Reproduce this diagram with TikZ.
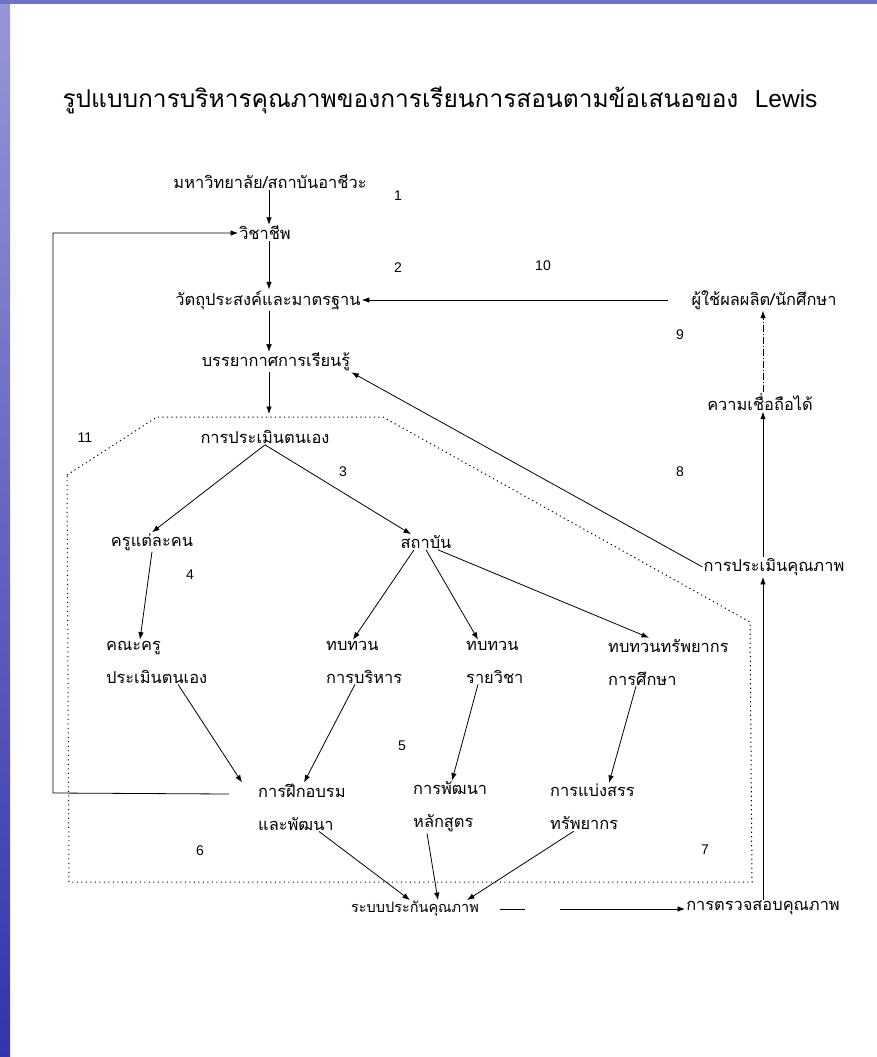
\documentclass[tikz,border=0pt]{standalone}
\usepackage{fontspec}
\setmainfont{Liberation Sans}
\newfontfamily\thaifont[Script=Thai]{Loma}
\newfontfamily\latinfont{Liberation Sans}
\usetikzlibrary{arrows.meta,positioning,calc}

\definecolor{bandtop}{RGB}{150,150,214}
\definecolor{bandbot}{RGB}{52,52,172}
\definecolor{bandline}{RGB}{112,112,196}

\begin{document}
\begin{tikzpicture}[x=1pt,y=-1pt,
    txt/.style={font=\thaifont\fontsize{16.4}{33}\selectfont, inner sep=1pt},
    two/.style={txt, align=left, anchor=west},
    num/.style={font=\latinfont\fontsize{14}{16}\selectfont, inner sep=0pt},
    arr/.style={-{Latex[length=7.5pt,width=5.5pt]}, line width=0.8pt},
    region/.style={line width=1pt, dash pattern=on 1.2pt off 3.3pt}]
        % page and blue strip
        \useasboundingbox (0,0) rectangle (877,1057);
        \fill[white] (0,0) rectangle (877,1057);
        \shade[top color=bandtop, bottom color=bandbot] (0,0) rectangle (10,1057);
        \fill[bandline] (0,0) rectangle (877,4);
        \node[font=\thaifont\fontsize{24.5}{28}\selectfont] (title) at (440,100) {รูปแบบการบริหารคุณภาพของการเรียนการสอนตามข้อเสนอของ\ \ {\latinfont Lewis}};
        % main column
        \node[txt] (uni) at (270,182) {มหาวิทยาลัย/สถาบันอาชีวะ};
        \node[txt] (prof) at (265,233) {วิชาชีพ};
        \node[txt] (goal) at (268,300) {วัตถุประสงค์และมาตรฐาน};
        \node[txt] (climate) at (276,362) {บรรยากาศการเรียนรู้};
        \node[txt] (selfeval) at (265,437) {การประเมินตนเอง};
        \node[txt] (teacher) at (152,542) {ครูแต่ละคน};
        \node[txt] (inst) at (426,542) {สถาบัน};
        \node[two] (staff) at (105,662) {คณะครู\\ประเมินตนเอง};
        \node[two] (revadm) at (325,662) {ทบทวน\\การบริหาร};
        \node[two] (revsubj) at (465,662) {ทบทวน\\รายวิชา};
        \node[two] (revres) at (607,662) {ทบทวนทรัพยากร\\การศึกษา};
        \node[two] (train) at (257,807) {การฝึกอบรม\\และพัฒนา};
        \node[two] (curr) at (412,807) {การพัฒนา\\หลักสูตร};
        \node[two] (alloc) at (549,807) {การแบ่งสรร\\ทรัพยากร};
        \node[txt, font=\thaifont\fontsize{14.5}{17}\selectfont] (qa) at (415,909) {ระบบประกันคุณภาพ};
        \node[txt] (audit) at (763,908) {การตรวจสอบคุณภาพ};
        % right column
        \node[txt] (qeval) at (774,567) {การประเมินคุณภาพ};
        \node[txt] (trust) at (760,402) {ความเชื่อถือได้};
        \node[txt] (users) at (764,300) {ผู้ใช้ผลผลิต/นักศึกษา};
        % step numbers
        \node[num] (n1) at (398,196) {1};
        \node[num] (n2) at (398,268) {2};
        \node[num] (n3) at (343,472) {3};
        \node[num] (n4) at (190,575) {4};
        \node[num] (n5) at (402,746) {5};
        \node[num] (n6) at (200,851) {6};
        \node[num] (n7) at (705,850) {7};
        \node[num] (n8) at (680,472) {8};
        \node[num] (n9) at (680,335) {9};
        \node[num] (n10) at (543,266) {10};
        \node[num] (n11) at (85,438) {11};
        % dotted region
        \coordinate (p1) at (67,475);
        \coordinate (p2) at (157,417);
        \coordinate (p3) at (383,417);
        \coordinate (p4) at (750,622);
        \coordinate (p5) at (752,882);
        \coordinate (p6) at (69,882);
        \draw[region] (p1) -- (p2) -- (p3) -- (p4) -- (p5) -- (p6) -- cycle;
        \coordinate (spine) at (269,0);
        \coordinate (rspine) at (763,0);
        \coordinate (loop) at (53,793);
        \draw[arr] (spine |- uni.south) -- (spine |- prof.north);
        \draw[arr] (spine |- prof.south) -- (spine |- goal.north);
        \draw[arr, line width=0.5pt] (spine |- goal.south) -- (spine |- climate.north);
        \draw[arr] (spine |- climate.south) -- ([yshift=3pt]spine |- p2);
        \draw[arr] (selfeval.south) -- (teacher.north);
        \draw[arr] (selfeval.south) -- ([xshift=-15pt]inst.north);
        \draw[arr] (teacher.south) -- ([xshift=35pt]staff.north west);
        \draw[arr] ([xshift=-12pt]inst.south) -- ([xshift=28pt]revadm.north west);
        \draw[arr] (inst.south) -- ([xshift=13pt]revsubj.north west);
        \draw[arr] ([xshift=12pt]inst.south) -- ([xshift=42pt]revres.north west);
        \draw[arr] ([xshift=73pt]staff.south west) -- ([xshift=-15pt]train.north west);
        \draw[arr] ([xshift=30pt]revadm.south west) -- ([xshift=47pt]train.north west);
        \draw[arr] ([xshift=13pt]revsubj.south west) -- ([xshift=40pt]curr.north west);
        \draw[arr] ([xshift=29pt]revres.south west) -- ([xshift=60pt]alloc.north west);
        \draw[arr] ([xshift=62pt]train.south west) -- ([xshift=-5pt]qa.north);
        \draw[arr] ([xshift=15pt]curr.south west) -- ([xshift=23pt]qa.north);
        \draw[arr] ([xshift=25pt]alloc.south west) -- ([xshift=52pt]qa.north);
        \draw[arr, dash pattern=on 0pt off 20pt on 25pt off 35pt on 300pt] (qa.east) -- (qa.east -| audit.west);
        \draw[arr] (audit.north) -- (audit.north |- qeval.south);
        \draw[arr] (rspine |- qeval.north) -- (rspine |- trust.south);
        \draw[arr, dash pattern=on 7pt off 2pt on 1pt off 2pt] (rspine |- trust.north) -- (rspine |- users.south);
        \draw[arr, shorten <=22pt] (users.west) -- (goal.east);
        \draw[arr] (qeval.west) -- (climate.south east);
        \draw[arr] ([xshift=-28pt,yshift=13pt]train.west) -- (loop) |- (prof.west);
\end{tikzpicture}
\end{document}
